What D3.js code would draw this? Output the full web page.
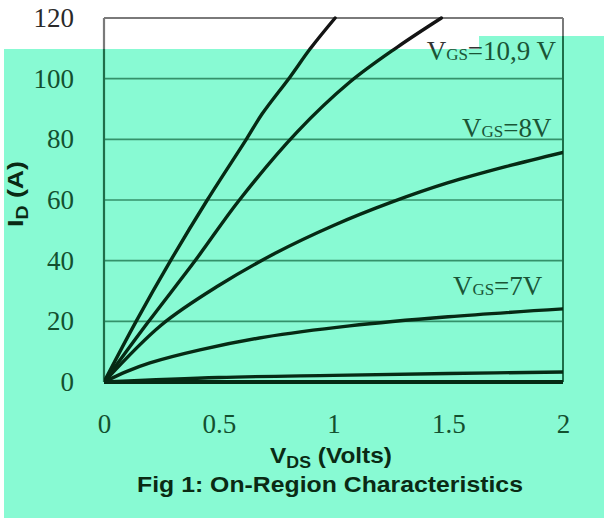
<!DOCTYPE html>
<html><head><meta charset="utf-8">
<script src="https://cdn.jsdelivr.net/npm/d3@7"></script>
<style>html,body{margin:0;padding:0;background:#fff;}svg{display:block;}</style>
</head><body>
<svg id="chart" width="604" height="518"></svg>
<script>
// ---- data ----
const xTicks = [0, 0.5, 1, 1.5, 2];
const xTickLabels = ["0", "0.5", "1", "1.5", "2"];
const yTicks = [0, 20, 40, 60, 80, 100, 120];
const seriesNames = ["VGS=10V", "VGS=9V", "VGS=8V", "VGS=7V", "VGS=6V"];
const vds10 = [0, 0.14, 0.29, 0.45, 0.62, 0.69, 0.81, 0.90, 1.007];
const id10  = [0, 20, 40, 60, 80, 88.5, 100.5, 110, 120];
const vds9  = [0, 0.19, 0.40, 0.59, 0.84, 1.07, 1.28, 1.47];
const id9   = [0, 19.5, 40.3, 60, 82.3, 98.8, 110.5, 120];
const vds8  = [0, 0.25, 0.5, 0.75, 1.0, 1.25, 1.5, 1.75, 2];
const id8   = [0, 18.8, 31.8, 42.6, 51.6, 59.2, 65.7, 71.0, 75.7];
const vds7  = [0, 0.1, 0.2, 0.418, 0.7, 1.07, 1.5, 2];
const id7   = [0, 3.5, 6.3, 10.6, 14.8, 18.5, 21.5, 24.1];
const vds6  = [0, 0.5, 1, 1.5, 2];
const id6   = [0, 1.5, 2.2, 2.8, 3.3];
const curveLabels = [
  {main: "V", sub: "GS", rest: "=10,9 V", v: 1.97, i: 106},
  {main: "V", sub: "GS", rest: "=8V", v: 1.95, i: 80.8},
  {main: "V", sub: "GS", rest: "=7V", v: 1.91, i: 28.7}
];

// ---- layout ----
const svg = d3.select("#chart");
const W = 604, H = 518;
const x = d3.scaleLinear().domain([0, 2]).range([104, 563]);
const y = d3.scaleLinear().domain([0, 120]).range([382, 18]);

const series = [
  d3.zip(vds10, id10), d3.zip(vds9, id9), d3.zip(vds8, id8),
  d3.zip(vds7, id7), d3.zip(vds6, id6)
];

const greenPoly = "M4,49 H479 V36 H604 V518 H4 Z";
const defs = svg.append("defs");
defs.append("clipPath").attr("id", "clipGreen").append("path").attr("d", greenPoly);
defs.append("clipPath").attr("id", "clipWhite").append("path")
  .attr("d", "M0,0 H604 V518 H0 Z " + greenPoly).attr("clip-rule", "evenodd");
defs.append("clipPath").attr("id", "plotClip").append("rect")
  .attr("x", x(0)).attr("y", y(120) - 2).attr("width", x(2) - x(0)).attr("height", y(0) - y(120) + 4);

svg.append("rect").attr("width", W).attr("height", H).attr("fill", "#ffffff");
svg.append("path").attr("d", greenPoly).attr("fill", "#88FAD3");

const palettes = {
  white: {grid: "#8a8a8a", border: "#7a7a7a", curve: "#141414", tick: "#2a2a2a", title: "#111", label: "#333"},
  green: {grid: "#34916A", border: "#1F6E4A", curve: "#062A14", tick: "#13502F", title: "#0A2A14", label: "#1A5536"}
};

const line = d3.line().x(d => x(d[0])).y(d => y(d[1])).curve(d3.curveCatmullRom.alpha(0.5));

function fitWidth(sel, cx, cy, target, rotate) {
  const w = sel.node().getBBox().width;
  const s = target / w;
  sel.attr("transform", `translate(${cx},${cy})${rotate ? " rotate(-90)" : ""} scale(${s},1)`);
}

function draw(clipId, p) {
  const g = svg.append("g").attr("clip-path", `url(#${clipId})`);
  g.append("g").selectAll("line").data(yTicks).join("line")
    .attr("x1", x(0)).attr("x2", x(2)).attr("y1", d => y(d)).attr("y2", d => y(d))
    .attr("stroke", d => d === 120 ? p.border : p.grid).attr("stroke-width", d => d === 120 ? 2.2 : 1.6);
  g.append("line").attr("x1", x(0)).attr("x2", x(0)).attr("y1", y(120)).attr("y2", y(0))
    .attr("stroke", p.border).attr("stroke-width", 2.2);
  g.append("line").attr("x1", x(2)).attr("x2", x(2)).attr("y1", y(120)).attr("y2", y(0))
    .attr("stroke", p.border).attr("stroke-width", 2);
  g.append("line").attr("x1", x(0)).attr("x2", x(2)).attr("y1", y(0)).attr("y2", y(0))
    .attr("stroke", p.curve).attr("stroke-width", 4);
  g.append("g").attr("clip-path", "url(#plotClip)").selectAll("path").data(series).join("path")
    .attr("d", line).attr("fill", "none").attr("stroke", p.curve)
    .attr("stroke-width", 3.4).attr("stroke-linecap", "round");
  const ya = g.append("g").attr("transform", `translate(${x(0)},0)`)
    .call(d3.axisLeft(y).tickValues(yTicks).tickSize(0).tickPadding(30));
  ya.select(".domain").remove();
  ya.selectAll("text").attr("font-family", "'Liberation Serif', serif").attr("font-size", 27).attr("fill", p.tick);
  const xa = g.append("g").attr("transform", `translate(0,${y(0)})`)
    .call(d3.axisBottom(x).tickValues(xTicks).tickFormat((d, i) => xTickLabels[i]).tickSize(0).tickPadding(32));
  xa.select(".domain").remove();
  xa.selectAll("text").attr("font-family", "'Liberation Serif', serif").attr("font-size", 27).attr("fill", p.tick);
  curveLabels.forEach(l => {
    const t = g.append("text").attr("x", x(l.v)).attr("y", y(l.i)).attr("text-anchor", "end")
      .attr("font-family", "'Liberation Serif', serif").attr("font-size", 27).attr("fill", p.label);
    t.append("tspan").text(l.main);
    t.append("tspan").attr("font-size", 17).text(l.sub);
    t.append("tspan").text(l.rest);
  });
  const font = "'Liberation Sans', Arial, sans-serif";
  const xt = g.append("text").attr("text-anchor", "middle")
    .attr("font-family", font).attr("font-weight", "bold").attr("font-size", 22).attr("fill", p.title);
  xt.append("tspan").text("V");
  xt.append("tspan").attr("font-size", 16).attr("dy", 5).text("DS");
  xt.append("tspan").attr("dy", -5).text(" (Volts)");
  fitWidth(xt, 331, 463, 122, false);
  const ft = g.append("text").attr("text-anchor", "middle")
    .attr("font-family", font).attr("font-weight", "bold")
    .attr("font-size", 22).attr("fill", p.title).text("Fig 1: On-Region Characteristics");
  fitWidth(ft, 330, 492, 386, false);
  const yt = g.append("text").attr("text-anchor", "middle")
    .attr("font-family", font).attr("font-weight", "bold").attr("font-size", 22).attr("fill", p.title);
  yt.append("tspan").text("I");
  yt.append("tspan").attr("font-size", 16).attr("dy", 5).text("D");
  yt.append("tspan").attr("dy", -5).text(" (A)");
  fitWidth(yt, 23, 194, 66, true);
}
draw("clipWhite", palettes.white);
draw("clipGreen", palettes.green);
</script>
</body></html>
